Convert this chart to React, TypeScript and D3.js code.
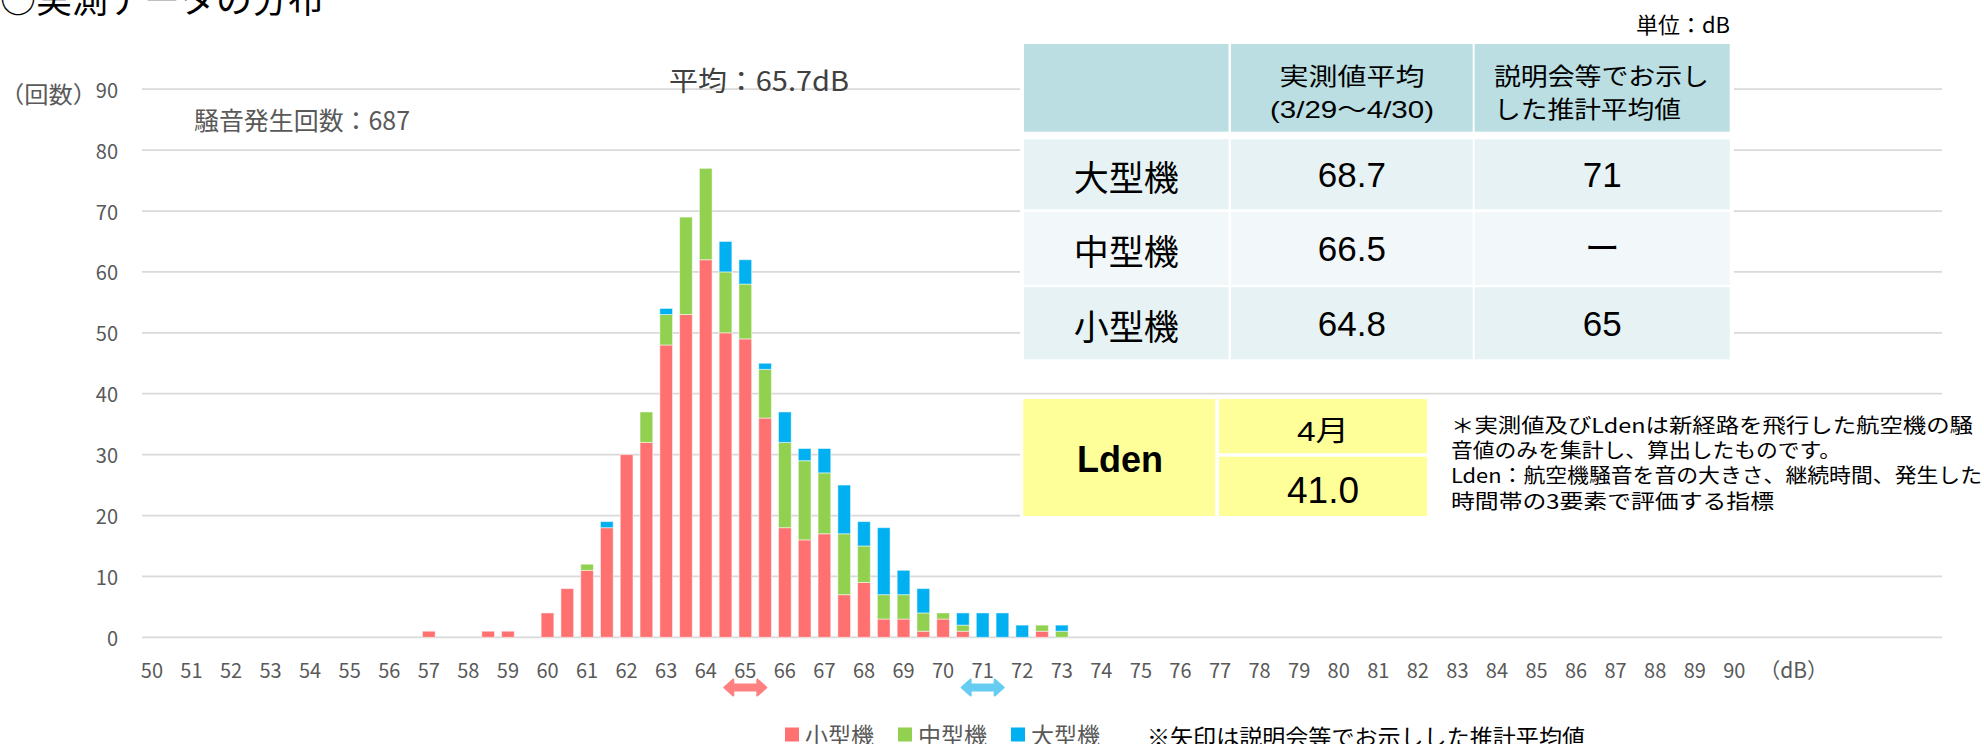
import React from 'react';
import * as d3 from 'd3';

const W = 1984;
const H = 744;

// 0.5 dB bins that carry data (everything else on the axis is empty)
const bins = [57, 57.5, 58, 58.5, 59, 59.5, 60, 60.5, 61, 61.5, 62, 62.5, 63, 63.5, 64, 64.5, 65, 65.5,
  66, 66.5, 67, 67.5, 68, 68.5, 69, 69.5, 70, 70.5, 71, 71.5, 72, 72.5, 73];
const smallCraft = [1, 0, 0, 1, 1, 0, 4, 8, 11, 18, 30, 32, 48, 53, 62, 50, 49, 36,
  18, 16, 17, 7, 9, 3, 3, 1, 3, 1, 0, 0, 0, 1, 0];
const mediumCraft = [0, 0, 0, 0, 0, 0, 0, 0, 1, 0, 0, 5, 5, 16, 15, 10, 9, 8,
  14, 13, 10, 10, 6, 4, 4, 3, 1, 1, 0, 0, 0, 1, 1];
const largeCraft = [0, 0, 0, 0, 0, 0, 0, 0, 0, 1, 0, 0, 1, 0, 0, 5, 4, 1,
  5, 2, 4, 8, 4, 11, 4, 4, 0, 2, 4, 4, 2, 0, 1];

const seriesKeys = ['small', 'medium', 'large'];
const seriesNames = ['小型機', '中型機', '大型機'];
const seriesColors = ['#FF7171', '#92D050', '#00B0F0'];

const yTicks = [0, 10, 20, 30, 40, 50, 60, 70, 80, 90];
const xTicks = d3.range(50, 91);
const axisBins = d3.range(50, 95.5, 0.5);

// estimated averages shown as arrows under the axis
const arrowValues = [65, 71];
const arrowColors = ['#FF8080', '#66CCF2'];

// summary table
const rowNames = ['大型機', '中型機', '小型機'];
const measuredAvg = ['68.7', '66.5', '64.8'];
const estimatedAvg = ['71', 'ー', '65'];
const noteLines = [
  '＊実測値及びLdenは新経路を飛行した航空機の騒',
  '音値のみを集計し、算出したものです。',
  'Lden：航空機騒音を音の大きさ、継続時間、発生した',
  '時間帯の3要素で評価する指標',
];
const noteWidths = [522, 390, 531, 323];

const CJK = '"Noto Sans CJK JP", "Noto Sans", sans-serif';
const LAT = '"Liberation Sans", Arial, "Noto Sans CJK JP", sans-serif';

const Txt = ({ x, y, size, children, anchor = 'start', fill = '#595959', weight = 400, family = CJK, len }: any) => (
  <text x={x} y={y} fontSize={size} dominantBaseline="central" textAnchor={anchor} fill={fill}
    fontWeight={weight} fontFamily={family}
    textLength={len} lengthAdjust={len ? 'spacingAndGlyphs' : undefined}>{children}</text>
);

const App = () => {
  const rows = bins.map((b, i) => ({ bin: b, small: smallCraft[i], medium: mediumCraft[i], large: largeCraft[i] }));
  const stacked = d3.stack<any>().keys(seriesKeys)(rows);

  const x = d3.scaleBand<number>().domain(axisBins).range([142, 1942]).paddingInner(0.357).paddingOuter(0.1785);
  const y = d3.scaleLinear().domain([0, 90]).range([637.3, 89.2]);
  const cx = (v: number) => (x(v) as number) + x.bandwidth() / 2;

  const cols = [[1024, 1228.5], [1231, 1472.7], [1474.6, 1729.7]];
  const bodyRows = [[139.3, 209.3], [212, 285], [287.3, 359.3]];
  const rowFill = ['#E6F2F3', '#F2F7F9', '#E6F2F3'];

  const arrow = (c: number, cy: number) =>
    `M${c - 21},${cy} L${c - 12},${cy - 8} L${c - 12},${cy - 3} L${c + 12},${cy - 3} L${c + 12},${cy - 8} L${c + 21},${cy} L${c + 12},${cy + 8} L${c + 12},${cy + 3} L${c - 12},${cy + 3} L${c - 12},${cy + 8} Z`;

  return (
    <svg width={W} height={H} style={{ position: 'absolute', left: 0, top: 0, background: '#fff' }}>
      <Txt x={0} y={-3} size={36} fill="#000">○実測データの分布</Txt>

      {/* gridlines */}
      {yTicks.map(t => (
        <line key={t} x1={142} x2={1942} y1={y(t)} y2={y(t)} stroke="#D9D9D9" strokeWidth={1.75} />
      ))}
      {yTicks.map(t => (
        <Txt key={t} x={118} y={y(t)} size={20} anchor="end">{t}</Txt>
      ))}
      <Txt x={0} y={93} size={23} len={97}>（回数）</Txt>

      {/* stacked bars */}
      {stacked.map((s, si) => (
        <g key={s.key} fill={seriesColors[si]}>
          {s.filter(d => d[1] > d[0]).map(d => (
            <rect key={d.data.bin} x={x(d.data.bin)} width={x.bandwidth()} y={y(d[1])} height={y(d[0]) - y(d[1])}
              stroke="#fff" strokeOpacity={0.5} strokeWidth={1} />
          ))}
        </g>
      ))}

      {xTicks.map(t => (
        <Txt key={t} x={cx(t)} y={669} size={20} anchor="middle">{t}</Txt>
      ))}
      <Txt x={cx(91.5)} y={669} size={21} anchor="middle">（dB）</Txt>

      {arrowValues.map((v, i) => (
        <path key={v} d={arrow(cx(v), 687.5)} fill={arrowColors[i]} stroke={arrowColors[i]} strokeWidth={2} strokeLinejoin="round" />
      ))}

      <Txt x={194} y={119} size={25} len={216}>騒音発生回数：687</Txt>
      <Txt x={669} y={79.5} size={27} fill="#404040" len={180}>平均：65.7dB</Txt>

      {/* legend */}
      {seriesNames.map((n, i) => (
        <g key={n} transform={`translate(${785 + i * 113},0)`}>
          <rect x={0} y={727.5} width={14} height={14} fill={seriesColors[i]} />
          <Txt x={20} y={733.5} size={23}>{n}</Txt>
        </g>
      ))}
      <Txt x={1147} y={735} size={22} fill="#000" len={438}>※矢印は説明会等でお示しした推計平均値</Txt>

      {/* average table */}
      <rect x={1020} y={40} width={714} height={323} fill="#fff" />
      <Txt x={1730} y={23} size={22} anchor="end" fill="#000">単位：dB</Txt>
      {cols.map((c, i) => (
        <rect key={i} x={c[0]} y={44} width={c[1] - c[0]} height={87.7} fill="#BADEE2" />
      ))}
      <Txt x={1352} y={74} size={24} anchor="middle" fill="#000" len={145}>実測値平均</Txt>
      <Txt x={1352} y={109} size={24} anchor="middle" fill="#000" family={LAT} len={164}>(3/29～4/30)</Txt>
      <Txt x={1494} y={74} size={24} fill="#000" len={215}>説明会等でお示し</Txt>
      <Txt x={1494} y={107.5} size={24} fill="#000" len={187}>した推計平均値</Txt>
      {bodyRows.map((r, ri) => (
        <g key={ri}>
          {cols.map((c, ci) => (
            <rect key={ci} x={c[0]} y={r[0]} width={c[1] - c[0]} height={r[1] - r[0]} fill={rowFill[ri]} />
          ))}
          <Txt x={(cols[0][0] + cols[0][1]) / 2} y={(r[0] + r[1]) / 2 + 1} size={35} anchor="middle" fill="#000">{rowNames[ri]}</Txt>
          <Txt x={(cols[1][0] + cols[1][1]) / 2} y={(r[0] + r[1]) / 2} size={35} anchor="middle" fill="#000" family={LAT}>{measuredAvg[ri]}</Txt>
          <Txt x={(cols[2][0] + cols[2][1]) / 2} y={(r[0] + r[1]) / 2} size={35} anchor="middle" fill="#000" family={LAT}>{estimatedAvg[ri]}</Txt>
        </g>
      ))}

      {/* Lden box */}
      <rect x={1020} y={396} width={412} height={123} fill="#fff" />
      <rect x={1432} y={405} width={552} height={125} fill="#fff" />
      <rect x={1023.2} y={399} width={192} height={117} fill="#FFFF99" />
      <rect x={1219} y={399} width={208} height={54.3} fill="#FFFF99" />
      <rect x={1219} y={456.7} width={208} height={59.3} fill="#FFFF99" />
      <Txt x={1120} y={459} size={36} anchor="middle" fill="#000" weight={700} family={LAT}>Lden</Txt>
      <Txt x={1323} y={431} size={28} anchor="middle" fill="#000" family={LAT} len={52}>4月</Txt>
      <Txt x={1323} y={490} size={37} anchor="middle" fill="#000" family={LAT}>41.0</Txt>
      {noteLines.map((l, i) => (
        <Txt key={i} x={1451} y={424.3 + i * 25.3} size={20} fill="#000" len={noteWidths[i]}>{l}</Txt>
      ))}
    </svg>
  );
};

export default App;
